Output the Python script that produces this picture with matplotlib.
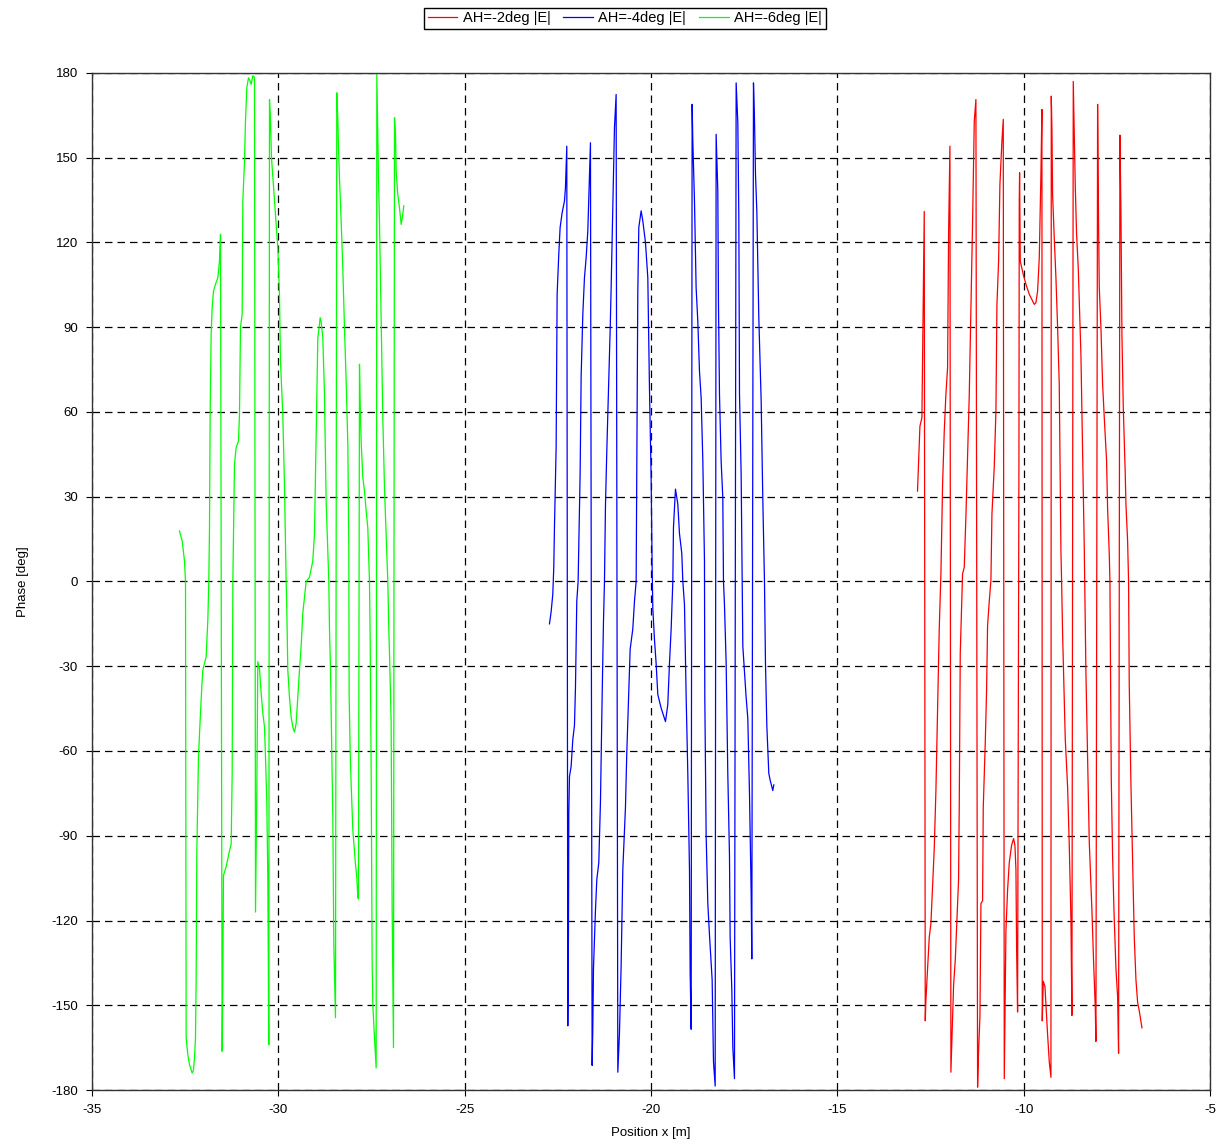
import matplotlib
matplotlib.use("Agg")
from matplotlib import pyplot as plt

plt.rcParams["font.family"] = ["Liberation Sans", "DejaVu Sans"]
plt.rcParams["axes.unicode_minus"] = False

# phase traces along the x cut, (position [m], phase [deg])
ah2_trace = [
    (-12.85, 32), (-12.785, 55), (-12.732, 58), (-12.696, 100), (-12.669, 131),
    (-12.642, -155.5), (-12.624, -148), (-12.58, -137), (-12.535, -126), (-12.49, -121),
    (-12.446, -108), (-12.401, -94.6), (-12.356, -74), (-12.311, -44.8), (-12.267, -16.8),
    (-12.222, 2.7), (-12.177, 34.4), (-12.132, 53.3), (-12.088, 66.3), (-12.043, 75.7),
    (-12.016, 122.9), (-11.98, 154.1), (-11.954, -173.7), (-11.909, -155), (-11.882, -143),
    (-11.837, -134), (-11.802, -122.6), (-11.748, -105.6), (-11.73, -79.4), (-11.703, -25.3),
    (-11.641, 2.7), (-11.596, 5), (-11.551, 23.2), (-11.506, 45), (-11.462, 65.7),
    (-11.417, 95.8), (-11.372, 127.6), (-11.327, 163), (-11.283, 170.6), (-11.238, -179),
    (-11.211, -166), (-11.175, -154), (-11.148, -114), (-11.104, -113), (-11.086, -80),
    (-11.032, -57), (-10.997, -38.7), (-10.97, -15.6), (-10.925, -7), (-10.88, 0.5),
    (-10.853, 23.8), (-10.79, 40.9), (-10.746, 60.4), (-10.719, 98), (-10.674, 113.4),
    (-10.639, 140.6), (-10.585, 155.9), (-10.549, 163.6), (-10.522, -176), (-10.478, -123.8),
    (-10.433, -109.2), (-10.388, -99.5), (-10.326, -93.4), (-10.272, -91), (-10.236, -93.4),
    (-10.209, -102), (-10.191, -130), (-10.165, -152.4), (-10.147, -60), (-10.129, 40),
    (-10.12, 134.7), (-10.111, 144.7), (-10.093, 113.4), (-10.013, 108.7), (-9.941, 105.2),
    (-9.852, 101.7), (-9.718, 98.1), (-9.673, 98.7), (-9.628, 102.8), (-9.583, 114.6),
    (-9.539, 144), (-9.512, 167.1), (-9.503, -155.5), (-9.476, -141.5), (-9.431, -143.3),
    (-9.36, -160.3), (-9.315, -170), (-9.27, -175.5), (-9.261, 171.8), (-9.243, 160),
    (-9.226, 137), (-9.181, 121.7), (-9.136, 107.5), (-9.091, 89.9), (-9.047, 69.8),
    (-9.002, 10.8), (-8.984, 0.2), (-8.957, -18.6), (-8.913, -41), (-8.886, -55.7),
    (-8.823, -72.7), (-8.778, -93.4), (-8.733, -120), (-8.707, -153.6), (-8.671, 177),
    (-8.617, 140), (-8.582, 122.9), (-8.537, 111), (-8.465, 80), (-8.421, 47.4),
    (-8.376, 12), (-8.331, -32.6), (-8.286, -61.8), (-8.242, -92), (-8.17, -116.5),
    (-8.125, -134.8), (-8.081, -150.6), (-8.063, -162.8), (-8.018, 168.9), (-7.991, 125),
    (-7.973, 104), (-7.929, 90), (-7.884, 70), (-7.839, 58), (-7.777, 42.7),
    (-7.75, 26), (-7.705, 9.7), (-7.687, 0), (-7.669, -35), (-7.651, -70),
    (-7.616, -97), (-7.58, -116), (-7.526, -137), (-7.481, -147), (-7.455, -167),
    (-7.419, 158), (-7.392, 131), (-7.365, 87.5), (-7.329, 61.6), (-7.276, 38),
    (-7.258, 27.4), (-7.213, 14.4), (-7.187, 0), (-7.169, -36.3), (-7.124, -71.5),
    (-7.079, -99.5), (-7.034, -126), (-6.989, -141), (-6.944, -149), (-6.9, -152),
    (-6.828, -158),
]

ah4_trace = [
    (-22.725, -15), (-22.68, -10.7), (-22.636, -4.6), (-22.609, 5), (-22.591, 19.1),
    (-22.546, 47.4), (-22.519, 101.7), (-22.475, 115.8), (-22.439, 125.3), (-22.385, 130.5),
    (-22.322, 134.7), (-22.296, 139.4), (-22.26, 154.1), (-22.233, -157.3), (-22.215, -124),
    (-22.206, -82), (-22.188, -69), (-22.144, -65.5), (-22.099, -56), (-22.054, -50.9),
    (-22.027, -37.5), (-21.992, -7), (-21.956, 0), (-21.902, 38.3), (-21.875, 72.5),
    (-21.83, 94.6), (-21.786, 107.5), (-21.741, 114.6), (-21.696, 124), (-21.652, 143),
    (-21.625, 155.3), (-21.58, -171.3), (-21.562, -158), (-21.544, -137), (-21.491, -116.5),
    (-21.455, -105.6), (-21.401, -99.5), (-21.356, -77.6), (-21.312, -41), (-21.276, -14.4),
    (-21.249, 0), (-21.222, 27), (-21.187, 46), (-21.142, 67.6), (-21.097, 88.8),
    (-21.07, 104), (-21.025, 133.5), (-20.981, 160.6), (-20.936, 172.4), (-20.891, -173.7),
    (-20.847, -160), (-20.802, -136), (-20.757, -102), (-20.686, -80), (-20.65, -60.6),
    (-20.596, -38.7), (-20.56, -24), (-20.489, -16.8), (-20.444, -7), (-20.399, 0),
    (-20.381, 44.2), (-20.355, 101.7), (-20.328, 125.3), (-20.265, 131.2), (-20.22, 127.6),
    (-20.149, 120), (-20.086, 107.5), (-20.042, 68.6), (-19.997, 36.8), (-19.97, 4.9),
    (-19.952, -9.5), (-19.908, -20.4), (-19.863, -29), (-19.818, -40), (-19.729, -44.8),
    (-19.612, -49.6), (-19.55, -43.6), (-19.505, -29), (-19.46, -16.8), (-19.415, 0),
    (-19.398, 19.1), (-19.344, 32.7), (-19.281, 27.4), (-19.237, 17), (-19.174, 9.9),
    (-19.147, 0.2), (-19.102, -8.3), (-19.057, -41), (-19.013, -67.9), (-18.968, -102),
    (-18.95, -138.4), (-18.923, -158.5), (-18.897, 168.9), (-18.879, 156), (-18.834, 134.7),
    (-18.79, 104), (-18.745, 92.2), (-18.7, 74.5), (-18.655, 65), (-18.61, 42.7),
    (-18.566, 7.3), (-18.557, -41), (-18.521, -89.8), (-18.476, -114), (-18.432, -125),
    (-18.36, -141), (-18.324, -170), (-18.279, -178.6), (-18.253, 158.3), (-18.208, 138.2),
    (-18.19, 98), (-18.163, 66.2), (-18.119, 42.6), (-18.074, 29.7), (-18.056, 0),
    (-18.029, -8.3), (-17.984, -29), (-17.94, -68), (-17.895, -97), (-17.877, -126),
    (-17.832, -144.5), (-17.805, -165), (-17.761, -176), (-17.716, 176.5), (-17.671, 162.4),
    (-17.644, 128.8), (-17.626, 66.3), (-17.582, 38), (-17.555, 0), (-17.537, -22.9),
    (-17.448, -41), (-17.403, -48.4), (-17.358, -75.2), (-17.313, -110.5), (-17.296, -133.6),
    (-17.251, 176.5), (-17.224, 163.6), (-17.197, 144.1), (-17.161, 131.1), (-17.108, 93.4),
    (-17.045, 64), (-17.0, 28.5), (-16.956, 0), (-16.929, -29), (-16.893, -50.9),
    (-16.84, -67.9), (-16.804, -70.3), (-16.733, -74), (-16.706, -72),
]

ah6_trace = [
    (-32.652, 17.9), (-32.58, 14.4), (-32.518, 7.3), (-32.49, 0), (-32.473, -161.5),
    (-32.428, -167.5), (-32.383, -171), (-32.312, -174), (-32.276, -173), (-32.249, -168.6),
    (-32.222, -161.5), (-32.204, -140), (-32.187, -96.4), (-32.142, -62), (-32.097, -49),
    (-32.052, -37), (-32.026, -31.4), (-31.936, -26.6), (-31.891, -13.6), (-31.865, 0),
    (-31.847, 17.9), (-31.829, 59.2), (-31.802, 87.5), (-31.775, 97), (-31.739, 102.8),
    (-31.686, 105.2), (-31.623, 107.5), (-31.578, 113.4), (-31.551, 122.9), (-31.507, -166.3),
    (-31.489, -140), (-31.471, -104), (-31.4, -101), (-31.31, -95.3), (-31.265, -93),
    (-31.238, -68), (-31.22, 0), (-31.176, 41.5), (-31.131, 47.4), (-31.068, 49.8),
    (-31.042, 59.2), (-31.015, 90), (-30.97, 94.6), (-30.952, 134.7), (-30.907, 148.8),
    (-30.881, 163), (-30.845, 174.8), (-30.8, 178.3), (-30.755, 177.1), (-30.729, 176),
    (-30.684, 179), (-30.639, 178.5), (-30.612, -117), (-30.577, -74), (-30.55, -28.4),
    (-30.505, -31), (-30.46, -39.6), (-30.415, -46.7), (-30.371, -51.5), (-30.344, -62),
    (-30.308, -78.7), (-30.281, -106), (-30.255, -164), (-30.237, 170.6), (-30.21, 163),
    (-30.183, 150), (-30.13, 140), (-30.076, 130), (-30.013, 118), (-29.969, 101.7),
    (-29.942, 78), (-29.88, 59.2), (-29.835, 34.4), (-29.79, 0), (-29.772, -10),
    (-29.745, -31.4), (-29.701, -40.9), (-29.656, -48), (-29.611, -51.5), (-29.567, -53.3),
    (-29.522, -50.3), (-29.477, -40.9), (-29.432, -31.4), (-29.388, -23), (-29.343, -11.2),
    (-29.253, 0), (-29.164, 1.5), (-29.075, 7.3), (-29.03, 16.7), (-29.003, 38),
    (-28.967, 66), (-28.94, 86.3), (-28.896, 91), (-28.878, 93.4), (-28.851, 92),
    (-28.806, 86.3), (-28.788, 78), (-28.761, 66), (-28.735, 45), (-28.717, 28.5),
    (-28.672, 10.8), (-28.645, 0), (-28.627, -17), (-28.6, -31), (-28.538, -83.4),
    (-28.511, -128.4), (-28.466, -154.4), (-28.431, 173), (-28.404, 164), (-28.377, 150),
    (-28.359, 142.9), (-28.314, 127.6), (-28.27, 111), (-28.225, 89.9), (-28.18, 71),
    (-28.135, 48.6), (-28.109, 12), (-28.1, -39.6), (-28.073, -59.8), (-28.046, -71.6),
    (-28.001, -88), (-27.93, -100), (-27.894, -104.7), (-27.867, -111.8), (-27.849, -112.4),
    (-27.822, 76.9), (-27.804, 62.7), (-27.778, 49.8), (-27.733, 36.8), (-27.688, 32),
    (-27.643, 25), (-27.599, 19), (-27.572, 7.3), (-27.554, 0), (-27.536, -19.5),
    (-27.509, -66.9), (-27.482, -135.5), (-27.464, -149.7), (-27.42, -161.5), (-27.375, -172.2),
    (-27.357, 179.5), (-27.312, 143), (-27.286, 127.6), (-27.241, 93.4), (-27.196, 58),
    (-27.152, 33.3), (-27.107, 16.7), (-27.062, 0), (-27.035, -17), (-27.017, -25.4),
    (-26.973, -49.7), (-26.946, -115.4), (-26.91, -165), (-26.883, 164.2), (-26.856, 158.3),
    (-26.838, 145.3), (-26.794, 137), (-26.749, 132.3), (-26.704, 126.4), (-26.66, 130),
    (-26.633, 133),
]

series_labels = ["AH=-2deg |E|", "AH=-4deg |E|", "AH=-6deg |E|"]
series_colors = ["#ff0000", "#0000ff", "#00ff00"]

x_ticks = [-35, -30, -25, -20, -15, -10, -5]
y_ticks = list(range(-180, 181, 30))

fig = plt.figure(figsize=(12.18, 11.44), dpi=100)
ax = fig.add_axes([0.0755, 0.0472, 0.918, 0.889])

handles = []
for trace, label, color in zip([ah2_trace, ah4_trace, ah6_trace], series_labels, series_colors):
    xs = [p[0] for p in trace]
    ys = [p[1] for p in trace]
    line, = ax.plot(xs, ys, color=color, linewidth=0.9, label=label)
    handles.append(line)

ax.set_xlim(-35, -5)
ax.set_ylim(-180, 180)
ax.set_xticks(x_ticks)
ax.set_yticks(y_ticks)
ax.tick_params(labelsize=9.5, length=4, width=0.8, direction="out", pad=6)
ax.grid(True, color="black", linestyle=(0, (6, 4)), linewidth=0.9)
for side in ax.spines.values():
    side.set_color("#333333")
    side.set_linewidth(1.0)

ax.set_xlabel("Position x [m]", fontsize=9.5, labelpad=8)
ax.set_ylabel("Phase [deg]", fontsize=9.5, labelpad=16)

leg = fig.legend(handles=handles, labels=series_labels, loc="center",
                 bbox_to_anchor=(0.513, 0.984), ncol=3, fontsize=10.5,
                 frameon=True, fancybox=False, edgecolor="black", framealpha=1,
                 borderpad=0.25, handlelength=2.0, handletextpad=0.4,
                 columnspacing=0.9)
leg.get_frame().set_linewidth(1.0)

fig.savefig("out.png", dpi=100)
